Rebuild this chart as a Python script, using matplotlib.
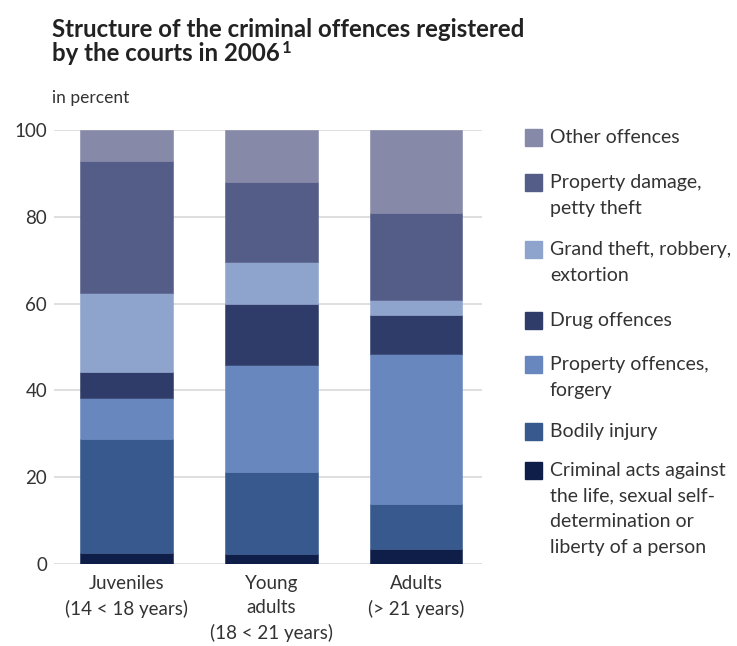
import matplotlib
matplotlib.use("Agg")
import matplotlib.pyplot as plt
import numpy as np
from matplotlib.patches import Rectangle

plt.rcParams['font.family'] = ['Lato', 'DejaVu Sans']

# groups on the x axis
groups = ["Juveniles\n(14 < 18 years)", "Young\nadults\n(18 < 21 years)", "Adults\n(> 21 years)"]

# offence categories, bottom of the stack first
categories = [
    "Criminal acts against\nthe life, sexual self-\ndetermination or\nliberty of a person",
    "Bodily injury",
    "Property offences,\nforgery",
    "Drug offences",
    "Grand theft, robbery,\nextortion",
    "Property damage,\npetty theft",
    "Other offences",
]
colors = ["#0f1e48", "#37598d", "#6887be", "#2f3c69", "#8fa4cc", "#545c88", "#8689a8"]

# shares in percent per group (juveniles, young adults, adults)
crim_life = [2.5, 2.2, 3.5]
bodily = [26.2, 18.9, 10.3]
property_forgery = [9.5, 24.8, 34.7]
drugs = [6.1, 14.0, 8.9]
grand_theft = [18.2, 9.8, 3.4]
damage_petty = [30.4, 18.3, 20.0]
other = [7.1, 12.0, 19.2]
series = [crim_life, bodily, property_forgery, drugs, grand_theft, damage_petty, other]

fig = plt.figure(figsize=(7.37, 6.46), dpi=100)
ax = fig.add_axes([54 / 737, 82 / 646, 428 / 737, 434 / 646])

x = np.arange(len(groups))
bottom = np.zeros(len(groups))
for vals, c in zip(series, colors):
    ax.bar(x, vals, width=0.64, bottom=bottom, color=c, edgecolor=c, linewidth=0.4, zorder=3)
    bottom += np.array(vals)

ax.set_xlim(-0.5, 2.455)
ax.set_ylim(0, 100)
ax.set_yticks([0, 20, 40, 60, 80, 100])
ax.yaxis.grid(True, color="#d9d9d9", linewidth=1.2, zorder=0)
ax.set_axisbelow(True)
for s in ax.spines.values():
    s.set_visible(False)
ax.tick_params(axis="y", length=0, pad=5, labelsize=13.5, labelcolor="#333333")
ax.tick_params(axis="x", length=0, pad=8, labelsize=13.5, labelcolor="#333333")
ax.set_xticks(x)
ax.set_xticklabels(groups, linespacing=1.5)

# title in two lines, with the footnote mark placed after the second line
fig.text(52 / 737, 1 - 18 / 646, "Structure of the criminal offences registered",
         ha="left", va="top", fontsize=17.3, fontweight="bold", color="#222222")
t2 = fig.text(52 / 737, 1 - 42 / 646, "by the courts in 2006",
              ha="left", va="top", fontsize=17.3, fontweight="bold", color="#222222")
fig.canvas.draw()
bb = t2.get_window_extent(renderer=fig.canvas.get_renderer())
fig.text((bb.x1 + 2) / 737, 1 - 40 / 646, "1", ha="left", va="top",
         fontsize=12, fontweight="bold", color="#222222")

fig.text(52 / 737, 1 - 98 / 646, "in percent", ha="left", va="center", fontsize=12.5, color="#333333")

# legend, top entry first
legend_y = [137, 182, 249, 320, 364, 431, 470]
for lab, c, yy in zip(categories[::-1], colors[::-1], legend_y):
    fig.patches.append(Rectangle((525 / 737, 1 - (yy + 9) / 646), 17 / 737, 17 / 646,
                                 transform=fig.transFigure, color=c, figure=fig))
    fig.text(550 / 737, 1 - (yy - 8) / 646, lab, ha="left", va="top", fontsize=14,
             color="#333333", linespacing=1.62)

fig.savefig("out.png", dpi=100, facecolor="white")
